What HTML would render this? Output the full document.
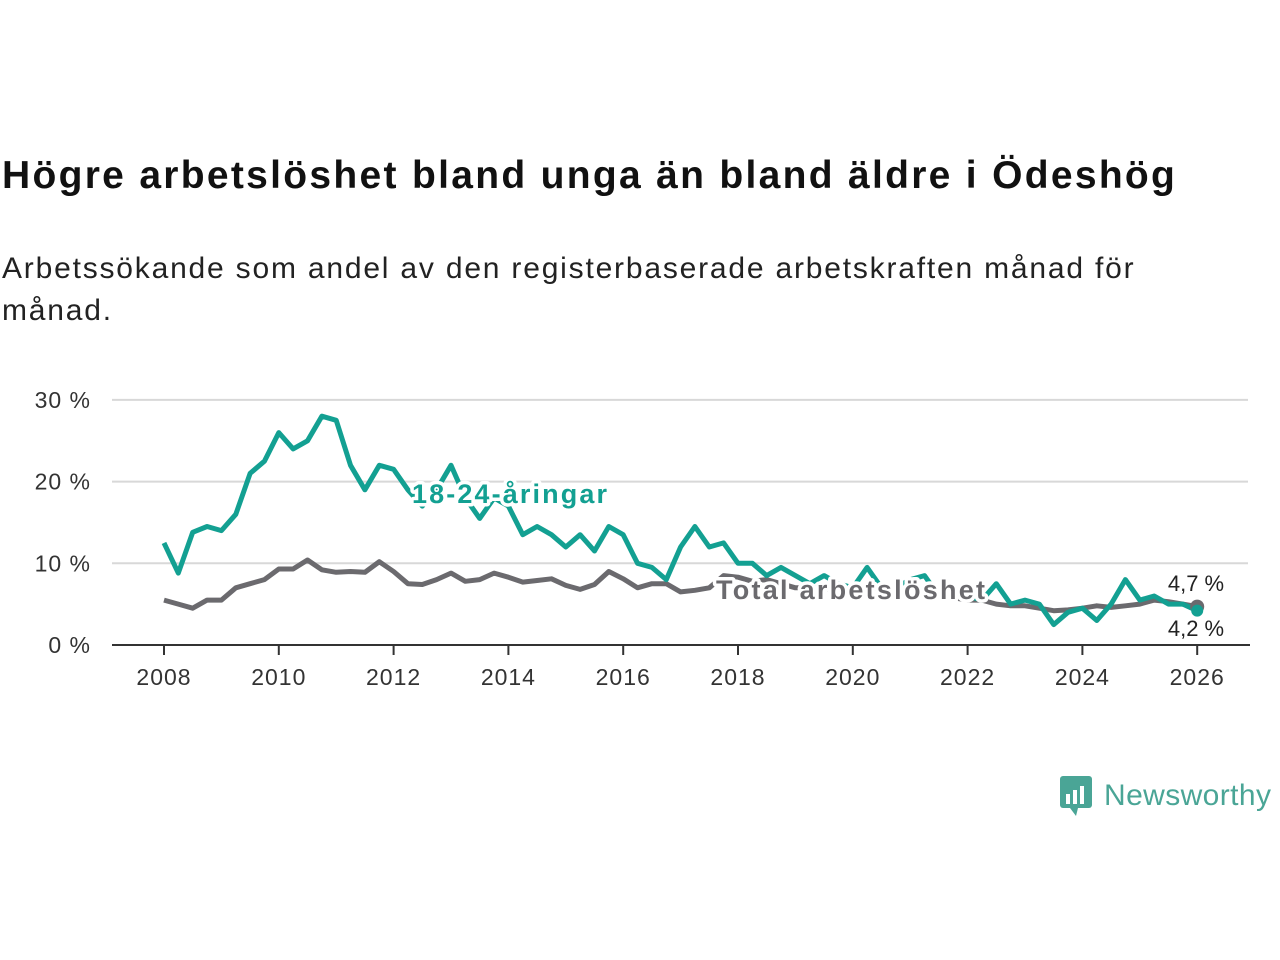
<!DOCTYPE html>
<html><head><meta charset="utf-8"><style>
body{margin:0;width:1280px;height:960px;background:#fff;font-family:"Liberation Sans","DejaVu Sans",sans-serif;overflow:hidden;position:relative}
h1{position:absolute;left:2px;top:154px;margin:0;font-size:39px;font-weight:bold;color:#111;letter-spacing:2.3px;white-space:nowrap}
p{position:absolute;left:2px;top:248px;margin:0;font-size:30px;line-height:42px;color:#222;width:1180px;letter-spacing:1.8px}
</style></head><body>
<h1>Högre arbetslöshet bland unga än bland äldre i Ödeshög</h1>
<p>Arbetssökande som andel av den registerbaserade arbetskraften månad för månad.</p>
<svg id="chart" width="1280" height="960" style="position:absolute;left:0;top:0"></svg>
<div style="position:absolute;left:1058px;top:774px;display:flex;align-items:center">
<svg width="36" height="44"><rect x="2" y="2" width="32" height="32" rx="3" fill="#4aa596"/><path d="M12 34 L18 42 L20 34Z" fill="#4aa596"/><rect x="8" y="20" width="4" height="10" fill="#fff"/><rect x="15" y="16" width="4" height="14" fill="#fff"/><rect x="22" y="12" width="4" height="18" fill="#fff"/></svg>
<span style="font-size:30px;color:#4aa596;margin-left:10px;letter-spacing:0.4px">Newsworthy</span></div>
<script>
const years=[2008,2010,2012,2014,2016,2018,2020,2022,2024,2026];
const yTicks=[0,10,20,30];
const youth=[12.5,8.8,13.8,14.5,14,16,21,22.5,26,24,25,28,27.5,22,19,22,21.5,19,17,19,22,18,15.5,18,17,13.5,14.5,13.5,12,13.5,11.5,14.5,13.5,10,9.5,8,12,14.5,12,12.5,10,10,8.5,9.5,8.5,7.5,8.5,7.5,7,9.5,7,7,8,8.5,6,6,6,5.5,7.5,5,5.5,5,2.5,4,4.5,3,5,8,5.5,6,5,5,4.2];
const total=[5.5,5,4.5,5.5,5.5,7,7.5,8,9.3,9.3,10.4,9.2,8.9,9,8.9,10.2,9,7.5,7.4,8,8.8,7.8,8,8.8,8.3,7.7,7.9,8.1,7.3,6.8,7.4,9,8.1,7,7.5,7.5,6.5,6.7,7,8.5,8.3,7.8,8,7.5,7,7,7,6.5,6.5,6.8,7,6.5,6,6.5,6,5.8,5.5,5.5,5,4.8,4.8,4.5,4.2,4.3,4.5,4.8,4.6,4.8,5,5.5,5.3,5,4.7];
const startYear=2008, step=0.25;
const X=y=>164+(y-2008)*57.4, Y=v=>645-v*8.17;
const svg=document.getElementById('chart'),NS='http://www.w3.org/2000/svg';
function mk(t,a,txt){const e=document.createElementNS(NS,t);for(const k in a)e.setAttribute(k,a[k]);if(txt!==undefined)e.textContent=txt;svg.appendChild(e);return e;}
yTicks.forEach(v=>{
 if(v>0){const g=mk('line',{x1:112,x2:1248,y1:Y(v),y2:Y(v),stroke:'#d8d8d8','stroke-width':2});
 
 }
 const t=mk('text',{x:91,y:Y(v)+8,'text-anchor':'end','font-size':23,fill:'#333','letter-spacing':1},v+' %');
 
 
});
const ax=mk('line',{x1:112,x2:1250,y1:645,y2:645,stroke:'#333','stroke-width':2});


years.forEach(y=>{
 const tk=mk('line',{x1:X(y),x2:X(y),y1:645,y2:655,stroke:'#333','stroke-width':2});
 
 
 const t=mk('text',{x:X(y),y:685,'text-anchor':'middle','font-size':23,fill:'#333','letter-spacing':1},y);
 
 
});
function line(arr,col,name){
 const d=arr.map((v,i)=>(i?'L':'M')+X(startYear+i*step).toFixed(1)+' '+Y(v).toFixed(1)).join(' ');
 const p=mk('path',{d:d,fill:'none',stroke:col,'stroke-width':5,'stroke-linejoin':'round'});
 
 
}
line(total,'#6b6a6e','total-line');
line(youth,'#13a092','youth-line');
const lab=(x,y,txt,col,name,size,anchor,w,len)=>{const a={x:x,y:y,'font-size':size,'font-weight':w,fill:col,'text-anchor':anchor,stroke:'#fff','stroke-width':7,'paint-order':'stroke','stroke-linejoin':'round'};if(len){a.textLength=len;a.lengthAdjust='spacing';}
 const t=mk('text',a,txt);
 
 };
lab(412,503,'18-24-åringar','#13a092','youth-label',27,'start','bold',195);
lab(716,599,'Total arbetslöshet','#6b6a6e','total-label',27,'start','bold',269);
const lx=X(startYear+(total.length-1)*step);
const d1=mk('circle',{cx:lx,cy:Y(total[total.length-1]),r:7,fill:'#6b6a6e'});


const d2=mk('circle',{cx:lx,cy:Y(youth[youth.length-1]),r:6,fill:'#13a092'});


lab(1196,591,total[total.length-1].toFixed(1).replace('.',',')+' %','#222','total-end-value',22,'middle','normal');
lab(1196,636,youth[youth.length-1].toFixed(1).replace('.',',')+' %','#222','youth-end-value',22,'middle','normal');
</script>
</body></html>
